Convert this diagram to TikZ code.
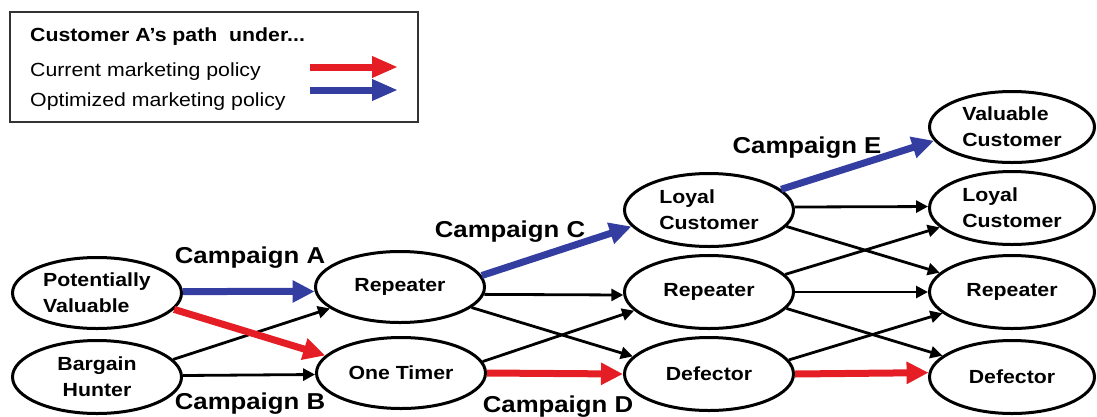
\documentclass[tikz,border=0pt]{standalone}
\usepackage{fontspec}
\setmainfont{Liberation Sans}[FakeStretch=1.12]
\usetikzlibrary{arrows.meta,shapes.geometric}
\definecolor{cred}{RGB}{228,30,36}
\definecolor{cblue}{RGB}{52,62,160}
\tikzset{
  ell/.style={ellipse, draw=black, line width=3pt, inner sep=0pt,
    minimum width=169pt, minimum height=71pt,
    font=\fontsize{19}{26}\selectfont\bfseries},
  blk/.style={line width=2.8pt, -{Triangle[length=12pt,width=12pt]}},
  redarr/.style={draw=cred, line width=7pt, -{Triangle[length=22pt,width=21pt]}},
  bluearr/.style={draw=cblue, line width=7pt, -{Triangle[length=22pt,width=21pt]}},
  legred/.style={draw=cred, line width=7pt, -{Triangle[length=26pt,width=20pt]}},
  legblue/.style={draw=cblue, line width=7pt, -{Triangle[length=26pt,width=20pt]}},
  camp/.style={font=\fontsize{23}{26}\selectfont\bfseries, inner sep=0pt},
  legtxt/.style={font=\fontsize{19}{24}\selectfont, anchor=west, inner sep=0pt},
}
\begin{document}
\begin{tikzpicture}[x=1pt,y=-1pt]
\useasboundingbox (0,0) rectangle (1097,416);
% legend
\node[draw=black!80, line width=1.3pt, minimum width=408pt, minimum height=110pt, inner sep=0pt] (legend) at (214,67) {};
\node[legtxt, font=\fontsize{19}{24}\selectfont\bfseries] (ltitle) at (30,37) {Customer A’s path~ under...};
\node[legtxt] (lcur) at (30,72) {Current marketing policy};
\node[legtxt] (lopt) at (30,102) {Optimized marketing policy};
\coordinate (r1) at (310,67);
\coordinate (r2) at (398,67);
\coordinate (b1) at (310,90);
\coordinate (b2) at (398,90);
\draw[legred] (r1) -- (r2);
\draw[legblue] (b1) -- (b2);
% nodes
\node[ell, align=left] (pv) at (97,293) {Potentially\\Valuable};
\node[ell, align=center, minimum height=73pt] (bh) at (97,377) {Bargain\\Hunter};
\node[ell] (rep2) at (400,287) {Repeater};
\node[ell] (ot) at (401,373) {One Timer};
\node[ell, align=left, minimum height=73pt] (loy3) at (709,210) {Loyal\\Customer};
\node[ell, minimum height=73pt] (rep3) at (709,292) {Repeater};
\node[ell, minimum height=73pt] (def3) at (709,374) {Defector};
\node[ell, align=left, minimum width=165pt] (val4) at (1012,127) {Valuable\\Customer};
\node[ell, align=left, minimum width=165pt, minimum height=73pt] (loy4) at (1012,208) {Loyal\\Customer};
\node[ell, minimum width=165pt, minimum height=73pt] (rep4) at (1012,292) {Repeater};
\node[ell, minimum width=165pt, minimum height=73pt] (def4) at (1012,377) {Defector};
% campaign labels
\node[camp] (ca) at (250,258) {Campaign A};
\node[camp] (cb) at (250,404) {Campaign B};
\node[camp] (cc) at (510,232) {Campaign C};
\node[camp] (cd) at (558,407) {Campaign D};
\node[camp] (ce) at (807,148) {Campaign E};
% black connectors
\draw[blk] (bh.13) -- (rep2.197);
\draw[blk] (bh.1) -- (ot.181);
\draw[blk] (rep2.-5) -- (rep3.182);
\draw[blk] (rep2.-16) -- (def3.167);
\draw[blk] (ot.8.5) -- (rep3.194);
\draw[blk] (loy3.2) -- (loy4.179);
\draw[blk] (loy3.-12) -- (rep4.165);
\draw[blk] (rep3.13) -- (loy4.195);
\draw[blk] (rep3.0) -- (rep4.180);
\draw[blk] (rep3.-12) -- (def4.163);
\draw[blk] (def3.10) -- (rep4.197);
% coloured connectors
\draw[bluearr] (pv.1) -- (rep2.183);
\draw[redarr] (pv.-12.6) -- (ot.167);
\draw[bluearr] (rep2.8) -- (loy3.192);
\draw[redarr] (ot.0) -- (def3.180);
\draw[bluearr] (loy3.16) -- (val4.190);
\draw[redarr] (def3.0) -- (def4.177);
\end{tikzpicture}
\end{document}
